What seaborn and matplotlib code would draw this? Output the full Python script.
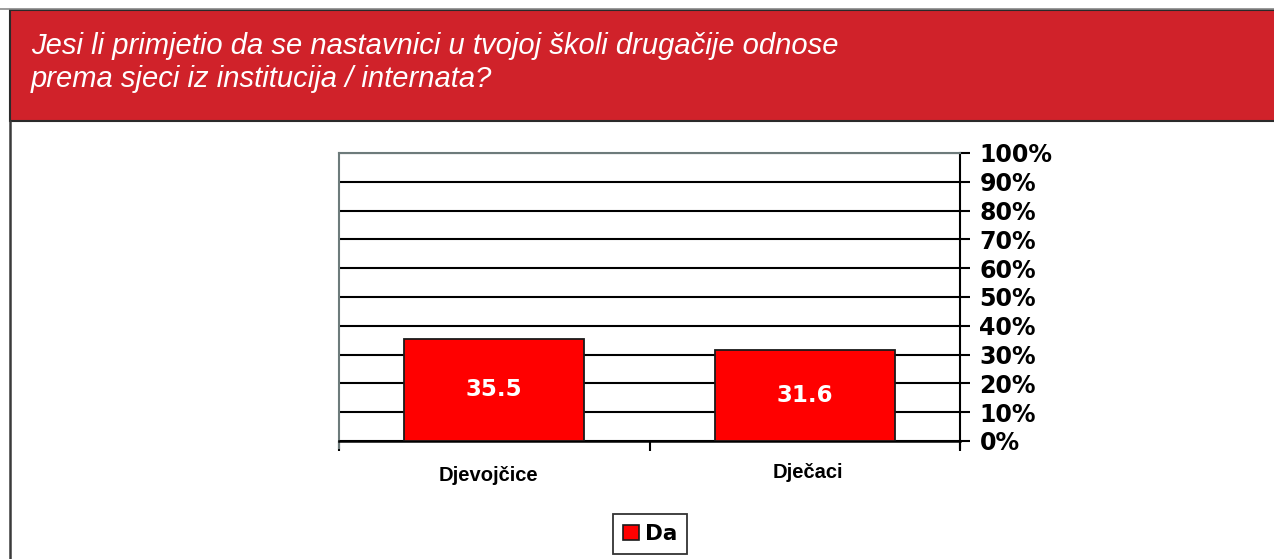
import matplotlib
matplotlib.use("Agg")
import matplotlib.pyplot as plt
from matplotlib.patches import Rectangle
from matplotlib.lines import Line2D
import seaborn as sns
import pandas as pd

# Data
categories = ["Djevojčice", "Dječaci"]
values = [35.5, 31.6]
series_name = "Da"
y_ticks = [0, 10, 20, 30, 40, 50, 60, 70, 80, 90, 100]
y_tick_labels = [f"{t}%" for t in y_ticks]
title_lines = ["Jesi li primjetio da se nastavnici u tvojoj školi drugačije odnose",
               "prema sjeci iz institucija / internata?"]

df = pd.DataFrame({"kategorija": categories, "postotak": values, "odgovor": series_name})

sns.set_theme(style="white")
plt.rcParams["font.family"] = ["DejaVu Sans"]
plt.rcParams["text.color"] = "black"

W, H = 1274, 559
fig = plt.figure(figsize=(W / 100, H / 100), dpi=100)

# Header band
fig.add_artist(Line2D([0, 1], [1 - 8.5 / H, 1 - 8.5 / H], transform=fig.transFigure,
                      color="#8a8a8a", lw=1.2))
fig.add_artist(Rectangle((10 / W, 1 - 121 / H), 1.0, 111 / H, transform=fig.transFigure,
                         facecolor="#D0222A", edgecolor="#2a2a2a", lw=1.5))
fig.add_artist(Line2D([10 / W, 10 / W], [0, 1 - 121 / H], transform=fig.transFigure,
                      color="#3a3a3a", lw=1.8))
for line, ypx in zip(title_lines, [46, 79]):
    fig.text(31 / W, 1 - ypx / H, line, color="white", fontsize=21, style="italic",
             family="Liberation Sans", va="center", ha="left")

# Plot area
ax = fig.add_axes([339 / W, 1 - 441 / H, 621 / W, 288 / H])
sns.barplot(data=df, x="kategorija", y="postotak", hue="odgovor", palette=["#FF0000"],
            saturation=1, width=0.58, edgecolor="#1a1a1a", linewidth=1.3, ax=ax, zorder=3,
            legend=False)

ax.set_ylim(0, 100)
ax.set_xlim(-0.5, 1.5)
ax.set_yticks(y_ticks)
ax.set_yticklabels(y_tick_labels)
ax.yaxis.tick_right()
ax.tick_params(axis="y", which="both", direction="out", length=7, width=1.5, color="black",
               pad=7, labelsize=17, labelcolor="black", right=True, left=False)
for lbl in ax.get_yticklabels():
    lbl.set_fontweight("bold")
    lbl.set_family("DejaVu Sans")

ax.grid(axis="y", color="black", lw=1.5, zorder=0)
ax.set_axisbelow(True)

# Category boundaries ticks
ax.set_xticks([-0.5, 0.5, 1.5], minor=True)
ax.tick_params(axis="x", which="minor", direction="out", length=7, width=1.5, color="black",
               bottom=True)
ax.tick_params(axis="x", which="major", length=0)
ax.set_xticks([0, 1])
ax.set_xticklabels([])
ax.text(-0.02, -12, categories[0], ha="center", va="center", fontsize=14.5, fontweight="bold",
        color="black", family="Liberation Sans", clip_on=False)
ax.text(1.01, -11, categories[1], ha="center", va="center", fontsize=14.5, fontweight="bold",
        color="black", family="Liberation Sans", clip_on=False)
ax.set_xlabel("")
ax.set_ylabel("")

for side in ["left", "top"]:
    ax.spines[side].set_color("#6d7b7b")
    ax.spines[side].set_linewidth(1.5)
ax.spines["bottom"].set_color("black")
ax.spines["bottom"].set_linewidth(1.8)
ax.spines["right"].set_color("black")
ax.spines["right"].set_linewidth(1.5)
ax.spines["right"].set_bounds(-2.5, 100)
ax.spines["left"].set_bounds(-2.5, 100)

# Value labels inside bars
for i, v in enumerate(values):
    ax.text(i, v / 2, f"{v:.1f}", ha="center", va="center", color="white", fontsize=16.5,
            fontweight="bold", family="DejaVu Sans", zorder=5)

# Legend
handle = Rectangle((0, 0), 1, 1, facecolor="#FF0000", edgecolor="#1a1a1a", lw=1.2)
leg = fig.legend([handle], [series_name], loc="center", bbox_to_anchor=(650 / W, 1 - 534 / H),
                 frameon=True, fancybox=False, edgecolor="black", handlelength=0.75,
                 handleheight=0.75, handletextpad=0.3, borderpad=0.45, borderaxespad=0,
                 prop={"family": "DejaVu Sans", "weight": "bold", "size": 15.5})
leg.get_frame().set_linewidth(1.3)
for t in leg.get_texts():
    t.set_color("black")

fig.savefig("out.png", dpi=100)
